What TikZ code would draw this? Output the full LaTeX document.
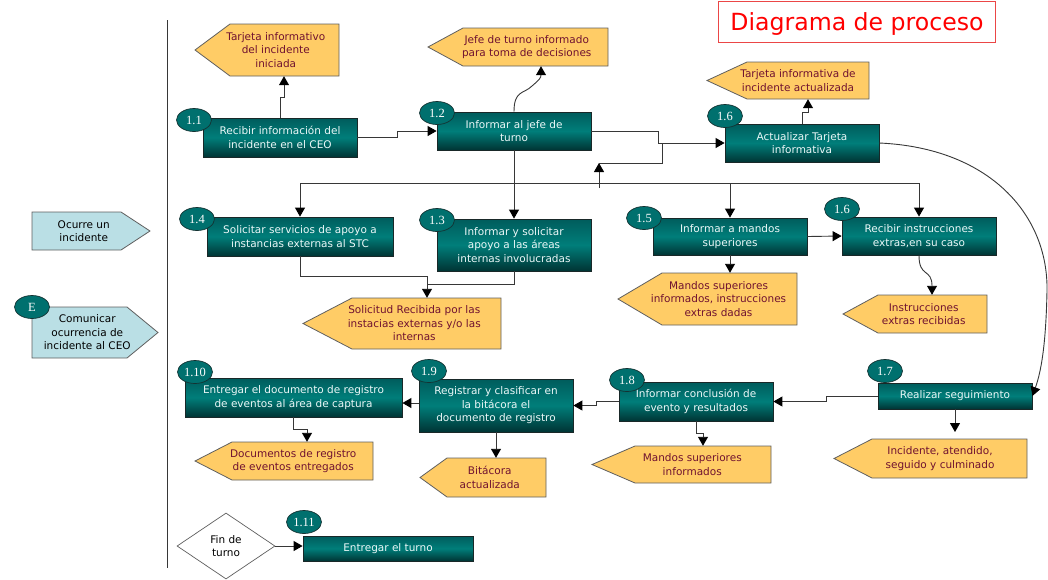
\documentclass[tikz,border=0pt]{standalone}
\usepackage{fontspec}
\setmainfont{DejaVu Sans}
\newfontfamily\numfont{Liberation Serif}
\usetikzlibrary{arrows.meta,shapes.geometric,calc}

\definecolor{procTop}{RGB}{0,92,92}
\definecolor{procMid}{RGB}{0,126,122}
\definecolor{procBot}{RGB}{0,52,52}
\definecolor{procLine}{RGB}{25,40,40}
\definecolor{procText}{RGB}{235,248,248}
\definecolor{ellFill}{RGB}{0,112,110}
\definecolor{ellLine}{RGB}{20,50,50}
\definecolor{docFill}{RGB}{255,204,102}
\definecolor{docLine}{RGB}{95,95,95}
\definecolor{docText}{RGB}{112,18,48}
\definecolor{evtFill}{RGB}{186,223,229}
\definecolor{evtLine}{RGB}{95,95,95}
\definecolor{lineCol}{RGB}{55,55,55}
\definecolor{titleLine}{RGB}{235,70,70}

\tikzset{
  proc/.style={draw=procLine, line width=0.8pt, top color=procTop, bottom color=procBot,
    middle color=procMid, text=procText, align=center, inner sep=0pt,
    font=\fontsize{10.5}{13.5}\selectfont},
  stepno/.style={ellipse, draw=ellLine, line width=0.7pt, fill=ellFill, text=white,
    inner sep=0pt, minimum width=35, minimum height=23,
    font=\numfont\fontsize{12.5}{13}\selectfont},
  docshape/.style={fill=docFill, draw=docLine, line width=0.8pt},
  doc/.style={align=center, text=docText, inner sep=0pt,
    font=\fontsize{10.5}{13.5}\selectfont},
  evtshape/.style={fill=evtFill, draw=evtLine, line width=0.8pt},
  evt/.style={align=center, text=black, inner sep=0pt,
    font=\fontsize{10.5}{13.5}\selectfont},
  decision/.style={diamond, draw=evtLine, line width=0.7pt, fill=white, align=center,
    inner sep=0pt, minimum width=98, minimum height=66,
    font=\fontsize{10.5}{13.5}\selectfont},
  link/.style={draw=lineCol, line width=0.9pt},
  arr/.style={link, -{Triangle[length=9pt,width=10pt,color=black]}},
  titlebox/.style={draw=titleLine, line width=0.8pt, inner sep=0pt},
  titletext/.style={text=red, inner sep=0pt, font=\fontsize{23.6}{26}\selectfont},
}

% process step: name, x1, y1, x2, y2, number x, number y, number, text
\newcommand\procbox[9]{%
  \node[proc, minimum width={#4-#2}, minimum height={#5-#3}] (#1)
    at ({(#2+#4)/2},{(#3+#5)/2}) {#9};
  \node[stepno] (#1n) at (#6,#7) {#8};
}
% output document (points left): name, tip x, flat x, right x, top y, bottom y, text
\newcommand\docbox[7]{%
  \path[docshape] (#2,{(#5+#6)/2}) -- (#3,#5) -- (#4,#5) -- (#4,#6) -- (#3,#6) -- cycle;
  \node[doc, minimum width={#4-(#2+#3)/2}, minimum height={#6-#5}] (#1)
    at ({((#2+#3)/2+#4)/2},{(#5+#6)/2}) {#7};
}
% trigger event (points right): name, left x, flat x, tip x, top y, bottom y, text
\newcommand\evtbox[7]{%
  \path[evtshape] (#2,#5) -- (#3,#5) -- (#4,{(#5+#6)/2}) -- (#3,#6) -- (#2,#6) -- cycle;
  \node[evt, minimum width={(#3+#4)/2-#2}, minimum height={#6-#5}] (#1)
    at ({(#2+(#3+#4)/2)/2},{(#5+#6)/2}) {#7};
}

\begin{document}
\begin{tikzpicture}[x=1pt,y=-1pt]
\useasboundingbox (0,0) rectangle (1048,579);

% title
\node[titlebox, minimum width=277, minimum height=41] (title) at (856.5,21.5) {};
\node[titletext, anchor=base] (titletxt) at (857,30) {Diagrama de proceso};

% lane separator
\draw[draw=lineCol, line width=0.9pt] (167,20) -- (167,568);

% triggers on the left
\evtbox{ocurre}{32}{121}{150}{212}{250}{Ocurre un\\incidente}
\evtbox{comunica}{32}{127}{158}{307}{358}{Comunicar\\ocurrencia de\\incidente al CEO}
\node[stepno] (comunican) at (32,307) {E};

% outputs
\docbox{d11}{195}{230}{339}{24}{76}{Tarjeta informativo\\del incidente\\iniciada}
\docbox{d12}{428}{463}{608}{28}{66}{Jefe de turno informado\\para toma de decisiones}
\docbox{d16a}{707}{747}{869}{62}{99}{Tarjeta informativa de\\incidente actualizada}
\docbox{d14}{303}{352}{501}{298}{349}{Solicitud Recibida por las\\instacias externas y/o las\\internas}
\docbox{d15}{618}{662}{797}{273}{325}{Mandos superiores\\informados, instrucciones\\extras dadas}
\docbox{d16b}{843}{878}{987}{295}{333}{Instrucciones\\extras recibidas}
\docbox{d110}{195}{232}{373}{442}{480}{Documentos de registro\\de eventos entregados}
\docbox{d19}{420}{447}{546}{458}{497}{Bitácora\\actualizada}
\docbox{d18}{592}{635}{771}{446}{483}{Mandos superiores\\informados}
\docbox{d17}{834}{872}{1027}{439}{478}{Incidente, atendido,\\seguido y culminado}

% process steps
\procbox{p11}{203}{118}{357}{157}{194}{120}{1.1}{Recibir información del\\incidente en el CEO}
\procbox{p12}{437}{112}{591}{150}{437}{113}{1.2}{Informar al jefe de\\turno}
\procbox{p16a}{725}{124}{879}{162}{725}{116}{1.6}{Actualizar Tarjeta\\informativa}
\procbox{p14}{207}{217}{393}{256}{197}{219}{1.4}{Solicitar servicios de apoyo a\\instancias externas al STC}
\procbox{p13}{437}{219}{591}{271}{437}{220}{1.3}{Informar y solicitar\\apoyo a las áreas\\internas involucradas}
\procbox{p15}{653}{218}{807}{255}{644}{218}{1.5}{Informar a mandos\\superiores}
\procbox{p16b}{842}{217}{996}{255}{842}{209}{1.6}{Recibir instrucciones\\extras,en su caso}
\procbox{p110}{185}{378}{402}{417}{195}{372}{1.10}{Entregar el documento de registro\\de eventos al área de captura}
\procbox{p19}{419}{379}{573}{432}{429}{371}{1.9}{Registrar y clasificar en\\la bitácora el\\documento de registro}
\procbox{p18}{619}{382}{773}{421}{627}{380}{1.8}{Informar conclusión de\\evento y resultados}
\procbox{p17}{878}{383}{1032}{409}{885}{371}{1.7}{Realizar seguimiento}
\procbox{p111}{303}{536}{473}{561}{304}{522}{1.11}{Entregar el turno}

% end of shift
\node[decision] (fin) at (226,546) {Fin de\\turno};

% connectors, upper row
\draw[arr] (p11.north) -- ++(0,-20) -| (284,0 |- d11.south);
\draw[arr] (p11.east) -- (397,0 |- p11.east) |- (p12.west);
\draw[arr] (p12.north) .. controls (514,90) and (524,94) .. (532,86)
  .. controls (539,80) and (541,78) .. (541,0 |- d12.south);
\draw[arr] (p12.east) -- (658,0 |- p12.east) |- (p16a.west);
\draw[arr] (p16a.north) -- ++(0,-11) -| (808,0 |- d16a.south);

% feedback into the 1.2 -> 1.6 path
\coordinate (fbBottom) at (599,188);
\coordinate (fbTop) at (599,163);
\coordinate (fbJoin) at (662,143);
\draw[arr] (fbBottom) -- (fbTop);
\draw[link] (fbTop) -| (fbJoin);

% distribution bus to the middle row
\draw[arr] (p12.south) -- (p13.north);
\draw[link] (p14.north |- 0,183) -- (p16b.north |- 0,183);
\draw[arr] (p14.north |- 0,183) -- (p14.north);
\draw[arr] (p15.north |- 0,183) -- (p15.north);
\draw[arr] (p16b.north |- 0,183) -- (p16b.north);

% middle row
\draw[arr] (p14.south) -- ++(0,20) -| (427,0 |- d14.north);
\draw[link] (p13.south) |- (427,284);
\draw[arr] (p15.east) -- (p16b.west);
\draw[arr] (p15.south) -- (p15.south |- d15.north);
\draw[arr] (p16b.south) .. controls (919,278) and (932,268) .. (932,0 |- d16b.north);

% follow-up arc
\draw[arr] (p16a.east) .. controls (990,148) and (1048,215) .. (1047,290)
  .. controls (1046,345) and (1041,372) .. (p17.east);

% lower row
\draw[arr] (p17.west) -- (826,0 |- p17.west) |- (p18.east);
\draw[arr] (p17.south) -- (p17.south |- 0,432);
\draw[arr] (p18.west) -- (596,0 |- p18.west) |- (p19.east);
\draw[arr] (p18.south) -- ++(0,12) -| (703,0 |- d18.north);
\draw[arr] (p19.west |- 0,403) -- (p110.east |- 0,403);
\draw[arr] (p19.south) -- (p19.south |- d19.north);
\draw[arr] (p110.south) -- ++(0,12) -| (307,0 |- d110.north);
\draw[arr] (fin.east) -- (fin.east -| p111.west);
\end{tikzpicture}
\end{document}
